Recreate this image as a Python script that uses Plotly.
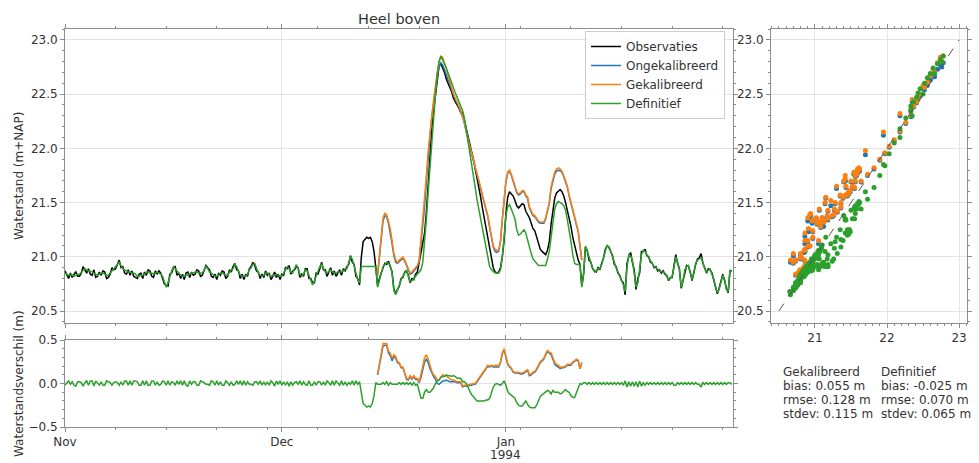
import numpy as np
import pandas as pd
import plotly.graph_objects as go

# 6-uurlijkse waterstanden (m+NAP) vanaf 1 november 1993 00:00
start = "1993-11-01"
stap = "6h"

observaties = [
    20.87, 20.83, 20.80, 20.85,  # 1 nov
    20.81, 20.84, 20.86, 20.82,
    20.82, 20.85, 20.91, 20.88,
    20.85, 20.89, 20.84, 20.83,
    20.88, 20.81, 20.82, 20.86,
    20.83, 20.87, 20.86, 20.80,
    20.81, 20.84, 20.90, 20.88,
    20.89, 20.93, 20.97, 20.90,
    20.91, 20.85, 20.84, 20.88,
    20.83, 20.87, 20.82, 20.81,
    20.80, 20.84, 20.85, 20.80,  # 11 nov
    20.86, 20.83, 20.88, 20.87,
    20.82, 20.81, 20.87, 20.84,
    20.87, 20.85, 20.79, 20.75,
    20.74, 20.73, 20.84, 20.85,
    20.90, 20.91, 20.83, 20.85,
    20.80, 20.84, 20.79, 20.85,
    20.86, 20.81, 20.86, 20.83,
    20.84, 20.88, 20.87, 20.82,
    20.83, 20.87, 20.92, 20.90,
    20.88, 20.82, 20.81, 20.84,  # 21 nov
    20.79, 20.85, 20.83, 20.87,
    20.86, 20.80, 20.82, 20.88,
    20.86, 20.91, 20.94, 20.88,
    20.87, 20.80, 20.84, 20.79,
    20.84, 20.82, 20.89, 20.91,
    20.95, 20.92, 20.87, 20.86,
    20.80, 20.84, 20.81, 20.87,
    20.83, 20.85, 20.79, 20.82,
    20.86, 20.81, 20.84, 20.79,
    20.84, 20.83, 20.90, 20.89,  # 1 dec
    20.92, 20.84, 20.87, 20.88,
    20.91, 20.90, 20.81, 20.84,
    20.82, 20.89, 20.89, 20.80,
    20.80, 20.76, 20.76, 20.85,
    20.84, 20.89, 20.95, 20.88,
    20.88, 20.82, 20.86, 20.90,
    20.83, 20.87, 20.82, 20.85,
    20.88, 20.83, 20.89, 20.87,
    20.91, 20.93, 21.01, 20.95,
    20.93, 20.82, 20.80, 20.74,  # 11 dec
    21.00, 21.14, 21.16, 21.18,
    21.17, 21.18, 21.14, 21.05,
    20.90, 20.73, 20.80, 20.86,
    20.90, 20.94, 20.93, 20.96,
    20.91, 20.86, 20.70, 20.66,
    20.70, 20.73, 20.80, 20.81,
    20.86, 20.87, 20.83, 20.76,
    20.80, 20.79, 20.84, 20.86,
    20.95, 21.05, 21.12, 21.22,
    21.42, 21.70, 21.95, 22.18,  # 21 dec
    22.35, 22.50, 22.66, 22.76,
    22.78, 22.74, 22.70, 22.64,
    22.60, 22.56, 22.52, 22.46,
    22.43, 22.41, 22.37, 22.33,
    22.33, 22.26, 22.18, 22.10,
    22.03, 21.97, 21.90, 21.82,
    21.73, 21.64, 21.55, 21.45,
    21.36, 21.27, 21.17, 21.08,
    20.97, 20.90, 20.86, 20.85,
    20.86, 20.90, 21.00, 21.15,  # 31 dec
    21.40, 21.55, 21.60, 21.58,
    21.56, 21.52, 21.47, 21.45,
    21.47, 21.49, 21.48, 21.42,
    21.39, 21.36, 21.31, 21.26,
    21.24, 21.18, 21.12, 21.07,
    21.05, 21.03, 21.02, 21.06,
    21.14, 21.30, 21.42, 21.54,
    21.59, 21.61, 21.62, 21.60,
    21.56, 21.50, 21.43, 21.35,
    21.28, 21.18, 21.10, 21.03,  # 10 jan
    20.97, 20.93, 20.73, 20.84,
    21.09, 21.06, 20.97, 20.95,
    20.89, 20.87, 20.86, 20.90,
    20.88, 20.94, 20.99, 21.07,
    21.10, 21.09, 21.04, 21.01,
    20.93, 20.91, 20.85, 20.83,
    20.78, 20.76, 20.65, 20.94,
    21.00, 21.04, 20.95, 20.88,
    20.70, 20.80, 20.85, 21.05,
    21.05, 21.07, 21.01, 21.00,  # 20 jan
    20.95, 20.94, 20.90, 20.91,
    20.87, 20.88, 20.85, 20.87,
    20.84, 20.83, 20.78, 20.81,
    20.81, 20.92, 21.02, 20.94,
    20.89, 20.71, 20.79, 20.87,
    20.92, 20.91, 20.86, 20.78,
    20.86, 20.93, 20.98, 20.99,
    21.03, 20.94, 20.90, 20.85,
    20.89, 20.88, 20.85, 20.79,
    20.73, 20.66, 20.71, 20.77,  # 30 jan
    20.84, 20.78, 20.71, 20.67,
    20.87, 20.87,
]

definitief = [
    20.85, 20.84, 20.83, 20.84,  # 1 nov
    20.83, 20.82, 20.83, 20.84,
    20.84, 20.86, 20.88, 20.89,
    20.88, 20.87, 20.87, 20.86,
    20.85, 20.84, 20.83, 20.84,
    20.85, 20.85, 20.84, 20.83,
    20.83, 20.85, 20.88, 20.89,
    20.91, 20.94, 20.95, 20.92,
    20.89, 20.88, 20.87, 20.86,
    20.86, 20.85, 20.85, 20.84,
    20.82, 20.82, 20.83, 20.83,  # 11 nov
    20.84, 20.86, 20.86, 20.85,
    20.85, 20.84, 20.85, 20.86,
    20.85, 20.84, 20.82, 20.77,
    20.72, 20.76, 20.82, 20.87,
    20.91, 20.89, 20.86, 20.84,
    20.83, 20.82, 20.82, 20.83,
    20.83, 20.84, 20.85, 20.85,
    20.86, 20.86, 20.85, 20.85,
    20.85, 20.88, 20.91, 20.89,
    20.86, 20.85, 20.83, 20.82,  # 21 nov
    20.82, 20.83, 20.85, 20.85,
    20.84, 20.83, 20.83, 20.86,
    20.88, 20.89, 20.93, 20.91,
    20.86, 20.83, 20.82, 20.82,
    20.82, 20.84, 20.88, 20.90,
    20.93, 20.94, 20.89, 20.85,
    20.83, 20.82, 20.83, 20.85,
    20.85, 20.83, 20.82, 20.83,
    20.83, 20.84, 20.83, 20.82,
    20.82, 20.85, 20.88, 20.91,  # 1 dec
    20.89, 20.86, 20.85, 20.89,
    20.93, 20.89, 20.84, 20.82,
    20.84, 20.88, 20.87, 20.83,
    20.78, 20.74, 20.78, 20.83,
    20.86, 20.91, 20.93, 20.90,
    20.86, 20.85, 20.87, 20.88,
    20.86, 20.85, 20.85, 20.86,
    20.86, 20.86, 20.87, 20.89,
    20.89, 20.94, 21.00, 20.98,
    20.91, 20.85, 20.79, 20.76,  # 11 dec
    20.91, 20.91, 20.91, 20.91,
    20.91, 20.91, 20.91, 20.91,
    20.91, 20.72, 20.79, 20.85,
    20.91, 20.93, 20.95, 20.94,
    20.92, 20.85, 20.69, 20.65,
    20.69, 20.74, 20.79, 20.82,
    20.85, 20.88, 20.82, 20.77,
    20.78, 20.80, 20.82, 20.85,
    20.87, 20.88, 20.95, 21.12,
    21.35, 21.60, 21.85, 22.10,  # 21 dec
    22.30, 22.50, 22.69, 22.80,
    22.85, 22.82, 22.78, 22.74,
    22.69, 22.65, 22.60, 22.55,
    22.51, 22.47, 22.43, 22.39,
    22.35, 22.28, 22.18, 22.05,
    21.95, 21.84, 21.75, 21.64,
    21.53, 21.44, 21.35, 21.25,
    21.16, 21.08, 20.98, 20.91,
    20.88, 20.86, 20.85, 20.85,
    20.85, 20.88, 21.00, 21.18,  # 31 dec
    21.38, 21.46, 21.48, 21.44,
    21.40, 21.35, 21.25, 21.20,
    21.21, 21.23, 21.25, 21.22,
    21.15, 21.09, 21.03, 20.98,
    20.96, 20.93, 20.92, 20.92,
    20.92, 20.92, 20.92, 20.98,
    21.05, 21.18, 21.34, 21.44,
    21.49, 21.51, 21.50, 21.49,
    21.47, 21.43, 21.34, 21.25,
    21.14, 21.02, 20.94, 20.93,  # 10 jan
    20.93, 20.93, 20.72, 20.85,
    21.10, 21.05, 20.98, 20.94,
    20.90, 20.86, 20.87, 20.89,
    20.89, 20.93, 21.00, 21.06,
    21.11, 21.08, 21.05, 21.00,
    20.94, 20.90, 20.86, 20.82,
    20.79, 20.74, 20.68, 20.90,
    21.02, 21.01, 20.97, 20.85,
    20.72, 20.76, 20.88, 21.02,
    21.06, 21.05, 21.02, 20.99,  # 20 jan
    20.96, 20.93, 20.91, 20.90,
    20.88, 20.87, 20.86, 20.86,
    20.85, 20.82, 20.79, 20.80,
    20.82, 20.90, 21.00, 20.95,
    20.88, 20.72, 20.78, 20.88,
    20.91, 20.92, 20.85, 20.79,
    20.85, 20.94, 20.97, 20.98,
    20.99, 20.95, 20.89, 20.86,
    20.88, 20.89, 20.84, 20.80,
    20.72, 20.67, 20.70, 20.78,  # 30 jan
    20.83, 20.79, 20.70, 20.68,
    20.88, 20.86,
]

# modelreeksen die afwijken van Definitief, vanaf 14 dec 06:00
kalibratie_start = "1993-12-14 06:00"
gekalibreerd = [
    20.84, 21.03, 21.22,
    21.36, 21.40, 21.39, 21.33,
    21.26, 21.15, 21.03, 20.97,
    20.95, 20.97, 20.99, 21.00,
    20.97, 20.93, 20.88, 20.85,
    20.86, 20.88, 20.90, 20.92,
    20.97, 21.15, 21.32, 21.52,
    21.75, 21.98, 22.15, 22.32,
    22.45, 22.58, 22.70, 22.80,
    22.85, 22.84, 22.79, 22.73,
    22.67, 22.61, 22.56, 22.50,
    22.46, 22.43, 22.39, 22.35,
    22.30, 22.24, 22.16, 22.08,
    22.02, 21.96, 21.90, 21.82,
    21.76, 21.70, 21.64, 21.57,
    21.50, 21.44, 21.38, 21.28,
    21.18, 21.10, 21.07, 21.06,
    21.06, 21.15, 21.35, 21.55,
    21.70, 21.78, 21.80, 21.76,
    21.70, 21.65, 21.60, 21.58,
    21.59, 21.61, 21.61, 21.57,
    21.55, 21.46, 21.42, 21.39,
    21.38, 21.35, 21.33, 21.32,
    21.32, 21.32, 21.36, 21.44,
    21.50, 21.65, 21.72, 21.78,
    21.81, 21.82, 21.81, 21.79,
    21.75, 21.70, 21.65, 21.57,
    21.50, 21.43, 21.36, 21.31,
    21.24, 21.10, 20.97,
]
ongekalibreerd = [
    20.83, 21.01, 21.19,
    21.33, 21.38, 21.37, 21.31,
    21.23, 21.12, 21.01, 20.95,
    20.94, 20.96, 20.98, 20.99,
    20.96, 20.92, 20.87, 20.84,
    20.85, 20.87, 20.89, 20.91,
    20.96, 21.12, 21.28, 21.47,
    21.70, 21.94, 22.12, 22.30,
    22.43, 22.55, 22.66, 22.75,
    22.79, 22.77, 22.73, 22.68,
    22.63, 22.58, 22.54, 22.48,
    22.45, 22.42, 22.38, 22.34,
    22.29, 22.23, 22.15, 22.07,
    22.01, 21.95, 21.89, 21.81,
    21.75, 21.69, 21.63, 21.56,
    21.49, 21.43, 21.37, 21.27,
    21.17, 21.09, 21.05, 21.04,
    21.05, 21.14, 21.34, 21.54,
    21.69, 21.77, 21.79, 21.75,
    21.69, 21.64, 21.59, 21.57,
    21.58, 21.60, 21.60, 21.56,
    21.54, 21.45, 21.41, 21.38,
    21.37, 21.34, 21.32, 21.31,
    21.31, 21.31, 21.35, 21.43,
    21.49, 21.63, 21.70, 21.76,
    21.79, 21.80, 21.79, 21.78,
    21.74, 21.69, 21.64, 21.56,
    21.49, 21.42, 21.36, 21.30,
    21.23, 21.10, 20.97,
]

maand_ticks = ["1993-11-01", "1993-12-01", "1994-01-01"]
maand_labels = ["Nov", "Dec", "Jan"]
jaar_label = "1994"
stand_ticks = [20.5, 21.0, 21.5, 22.0, 22.5, 23.0]
verschil_ticks = [-0.5, 0.0, 0.5]
verschil_labels = ["\u22120.5", "0.0", "0.5"]
scatter_ticks = [21, 22, 23]
lijn_1op1 = [20.5, 23.0]
stat_kolommen = [
    ["Gekalibreerd", "bias: 0.055 m", "rmse: 0.128 m", "stdev: 0.115 m"],
    ["Definitief", "bias: -0.025 m", "rmse: 0.070 m", "stdev: 0.065 m"],
]

assert len(observaties) == len(definitief)
assert len(gekalibreerd) == len(ongekalibreerd)

tijd = pd.date_range(start, periods=len(definitief), freq=stap)
tijd_kal = pd.date_range(kalibratie_start, periods=len(gekalibreerd), freq=stap)
i0 = int(np.searchsorted(tijd, tijd_kal[0]))

obs = np.array(observaties)
obs_kal = obs[i0:i0 + len(gekalibreerd)]
defi = np.array(definitief)
gek = np.array(gekalibreerd)
ongek = np.array(ongekalibreerd)

ZWART, BLAUW, ORANJE, GROEN = "#000000", "#1f77b4", "#ff7f0e", "#2ca02c"
TEKST = "#333333"
KADER = "#8c8c8c"
RASTER = "#e3e3e3"
FONT = "DejaVu Sans"
W, H = 979, 463


def px(x):
    return x / W


def py(y):
    return 1 - y / H


fig = go.Figure()

# hoofdpaneel
for naam, t, v, kleur in [
    ("Observaties", tijd, obs, ZWART),
    ("Ongekalibreerd", tijd_kal, ongek, BLAUW),
    ("Gekalibreerd", tijd_kal, gek, ORANJE),
    ("Definitief", tijd, defi, GROEN),
]:
    fig.add_trace(go.Scatter(x=t, y=v, name=naam, mode="lines",
                             line=dict(color=kleur, width=1.5),
                             xaxis="x", yaxis="y"))

# verschilpaneel
for t, v, kleur in [
    (tijd_kal, ongek - obs_kal, BLAUW),
    (tijd_kal, gek - obs_kal, ORANJE),
    (tijd, defi - obs, GROEN),
]:
    fig.add_trace(go.Scatter(x=t, y=v, mode="lines", showlegend=False,
                             line=dict(color=kleur, width=1.5),
                             xaxis="x2", yaxis="y2"))

# spreidingsdiagram
for xo, ym, kleur in [
    (obs_kal, ongek, BLAUW),
    (obs_kal, gek, ORANJE),
    (obs, defi, GROEN),
]:
    fig.add_trace(go.Scatter(x=xo, y=ym, mode="markers", showlegend=False,
                             marker=dict(color=kleur, size=5),
                             xaxis="x3", yaxis="y3"))
fig.add_trace(go.Scatter(x=lijn_1op1, y=lijn_1op1, mode="lines", showlegend=False,
                         line=dict(color="#555555", width=1, dash="dash"),
                         xaxis="x3", yaxis="y3"))

as_stijl = dict(showline=True, linecolor=KADER, linewidth=1, mirror="ticks",
                ticks="outside", ticklen=4, tickcolor=KADER, automargin=False,
                showgrid=True, gridcolor=RASTER, gridwidth=1, zeroline=False,
                tickfont=dict(size=12, color=TEKST))
week = 7 * 86400000
tijd_bereik = [start, "1994-02-01 10:00"]
hoofd_x = [px(65), px(733)]


def klein(dt, **extra):
    return dict(dtick=dt, ticks="outside", ticklen=2, tickcolor=KADER,
                showgrid=False, **extra)


fig.update_layout(
    width=W, height=H,
    margin=dict(l=0, r=0, t=0, b=0),
    paper_bgcolor="white", plot_bgcolor="white",
    font=dict(family=FONT, size=12, color=TEKST),
    xaxis=dict(domain=hoofd_x, anchor="y", type="date", range=tijd_bereik,
               tickvals=maand_ticks, showticklabels=False,
               minor=klein(week, tick0=start), **as_stijl),
    yaxis=dict(domain=[py(323), py(29)], anchor="x", range=[20.39, 23.10],
               tickvals=stand_ticks, tickformat=".1f", minor=klein(0.1), **as_stijl),
    xaxis2=dict(domain=hoofd_x, anchor="y2", type="date", range=tijd_bereik,
                tickvals=maand_ticks, ticktext=maand_labels,
                minor=klein(week, tick0=start), **as_stijl),
    yaxis2=dict(domain=[py(427), py(340)], anchor="x2", range=[-0.5, 0.5],
                tickvals=verschil_ticks, ticktext=verschil_labels,
                minor=klein(0.1), **as_stijl),
    xaxis3=dict(domain=[px(771), px(967)], anchor="y3", range=[20.39, 23.11],
                tickvals=scatter_ticks, minor=klein(0.1), **as_stijl),
    yaxis3=dict(domain=[py(323), py(29)], anchor="x3", range=[20.39, 23.10],
                tickvals=stand_ticks, tickformat=".1f", minor=klein(0.1), **as_stijl),
    legend=dict(x=px(725), y=py(31), xanchor="right", yanchor="top",
                bgcolor="rgba(255,255,255,0.85)", bordercolor="#cccccc",
                borderwidth=1, font=dict(size=12, color=TEKST),
                itemwidth=30, tracegroupgap=0),
    showlegend=True,
)

annotaties = [
    dict(text="Heel boven", x=px(399), y=py(19), font=dict(size=14.5, color=TEKST)),
    dict(text="Waterstand (m+NAP)", x=px(19), y=py(176), textangle=-90),
    dict(text="Waterstandsverschil (m)", x=px(19), y=py(384), textangle=-90),
]
for kol, xk in zip(stat_kolommen, [781, 879]):
    for i, regel in enumerate(kol):
        annotaties.append(dict(text=regel, x=px(xk), y=py(372 + 14 * i), xanchor="left"))
for a in annotaties:
    fig.add_annotation(xref="paper", yref="paper", showarrow=False,
                       **{"xanchor": "center", "yanchor": "middle", **a})

# jaartal onder de januari-tick
fig.add_annotation(text=jaar_label, xref="x2", x=maand_ticks[-1], yref="paper",
                   y=py(455), showarrow=False, xanchor="center", yanchor="middle")

# standaardmarge van de pagina weg, zodat de figuur precies in het venster past
fig.write_html("out.html", config={"displayModeBar": False},
               post_script="document.body.style.margin = '0';")
